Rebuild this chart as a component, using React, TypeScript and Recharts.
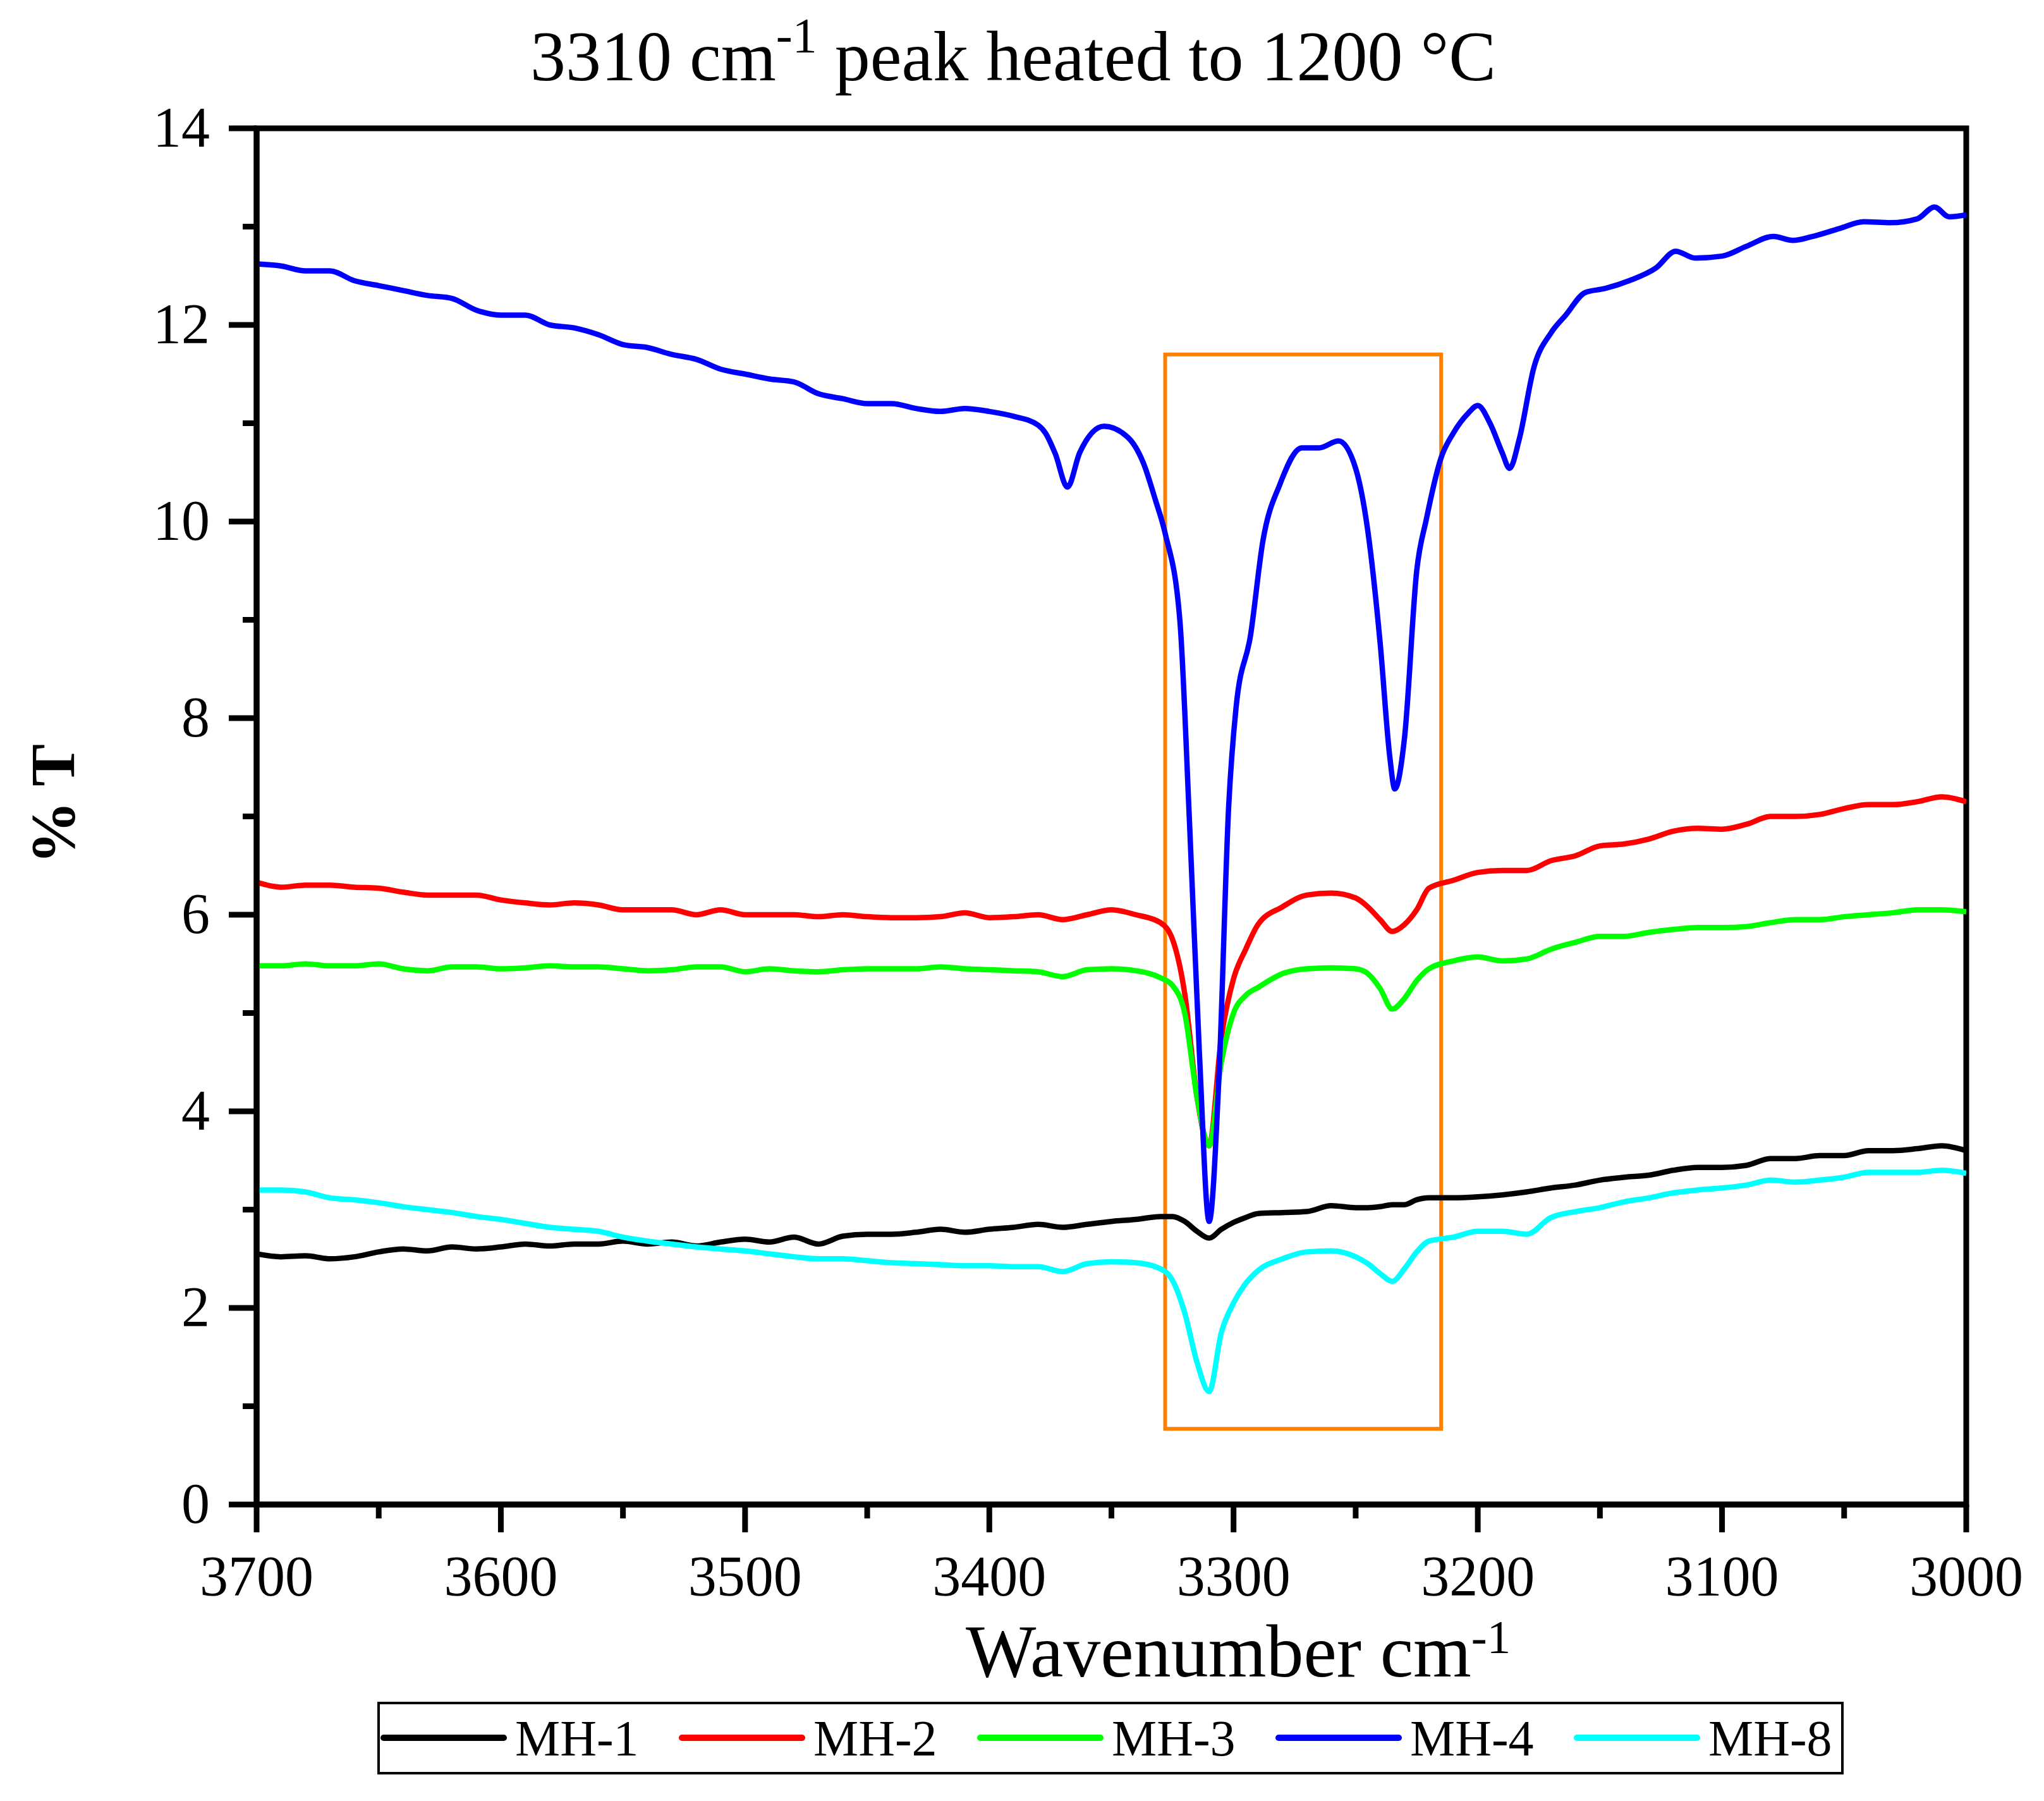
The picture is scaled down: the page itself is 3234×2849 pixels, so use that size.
import React from 'react';
import { LineChart, Line, XAxis, YAxis, ReferenceArea, Legend } from 'recharts';

const FONT = "'Liberation Serif', 'Times New Roman', Times, serif";

// Shared wavenumber grid for MH-1, MH-2, MH-3, MH-8
const wavenumbers = [
  3700, 3690, 3680, 3670, 3660, 3650, 3640, 3630, 3620, 3610, 3600, 3590, 3580, 3570, 3560, 3550, 3540, 3530, 3520,
  3510, 3500, 3490, 3480, 3470, 3460, 3450, 3440, 3430, 3420, 3410, 3400, 3390, 3380, 3370, 3360, 3350, 3340,
  3330, 3325, 3320, 3315, 3310, 3305, 3300, 3295, 3290, 3280, 3270, 3260, 3250, 3245, 3240, 3235, 3230, 3225, 3220,
  3210, 3200, 3190, 3180, 3170, 3160, 3150, 3140, 3130, 3120, 3110, 3100, 3090, 3080, 3070, 3060, 3050, 3040, 3030,
  3020, 3010, 3000,
];

const mh1 = [
  2.55, 2.52, 2.53, 2.5, 2.52, 2.57, 2.6, 2.58, 2.62, 2.6, 2.62, 2.65, 2.63, 2.65, 2.65, 2.68, 2.65, 2.67, 2.63,
  2.67, 2.7, 2.67, 2.72, 2.65, 2.73, 2.75, 2.75, 2.77, 2.8, 2.77, 2.8, 2.82, 2.85, 2.82, 2.85, 2.88, 2.9,
  2.93, 2.93, 2.88, 2.78, 2.71, 2.8, 2.87, 2.92, 2.96, 2.97, 2.98, 3.04, 3.02, 3.02, 3.03, 3.05, 3.05, 3.1, 3.12,
  3.12, 3.13, 3.15, 3.18, 3.22, 3.25, 3.3, 3.33, 3.35, 3.4, 3.43, 3.43, 3.45, 3.52, 3.52, 3.55, 3.55, 3.6, 3.6,
  3.62, 3.65, 3.6,
];

const mh2 = [
  6.33, 6.28, 6.3, 6.3, 6.28, 6.27, 6.23, 6.2, 6.2, 6.2, 6.15, 6.12, 6.1, 6.12, 6.1, 6.05, 6.05, 6.05, 6.0,
  6.05, 6.0, 6.0, 6.0, 5.98, 6.0, 5.98, 5.97, 5.97, 5.98, 6.02, 5.97, 5.98, 6.0, 5.95, 6.0, 6.05, 6.0,
  5.92, 5.75, 5.2, 4.15, 3.65, 4.75, 5.35, 5.65, 5.9, 6.08, 6.2, 6.22, 6.17, 6.08, 5.95, 5.83, 5.9, 6.05, 6.27,
  6.35, 6.43, 6.45, 6.45, 6.55, 6.6, 6.7, 6.72, 6.77, 6.85, 6.88, 6.87, 6.92, 7.0, 7.0, 7.02, 7.08, 7.12, 7.12,
  7.15, 7.2, 7.15,
];

const mh3 = [
  5.48, 5.48, 5.5, 5.48, 5.48, 5.5, 5.45, 5.43, 5.47, 5.47, 5.45, 5.46, 5.48, 5.47, 5.47, 5.45, 5.43, 5.44, 5.47,
  5.47, 5.42, 5.45, 5.43, 5.42, 5.44, 5.45, 5.45, 5.45, 5.47, 5.45, 5.44, 5.43, 5.42, 5.37, 5.44, 5.45, 5.43,
  5.36, 5.28, 5.0, 4.15, 3.65, 4.5, 5.0, 5.18, 5.26, 5.4, 5.45, 5.46, 5.45, 5.4, 5.25, 5.04, 5.15, 5.33, 5.45,
  5.53, 5.57, 5.53, 5.55, 5.65, 5.72, 5.78, 5.78, 5.82, 5.85, 5.87, 5.87, 5.88, 5.92, 5.95, 5.95, 5.98, 6.0, 6.02,
  6.05, 6.05, 6.03,
];

const mh8 = [
  3.2, 3.2, 3.18, 3.12, 3.1, 3.07, 3.03, 3.0, 2.97, 2.93, 2.9, 2.86, 2.82, 2.8, 2.78, 2.72, 2.68, 2.65, 2.62,
  2.6, 2.58, 2.55, 2.52, 2.5, 2.5, 2.48, 2.46, 2.45, 2.44, 2.43, 2.43, 2.42, 2.42, 2.37, 2.45, 2.47, 2.46,
  2.4, 2.28, 1.95, 1.45, 1.15, 1.75, 2.05, 2.25, 2.38, 2.5, 2.57, 2.58, 2.52, 2.45, 2.35, 2.27, 2.4, 2.57, 2.68,
  2.72, 2.78, 2.78, 2.75, 2.92, 2.98, 3.02, 3.08, 3.12, 3.17, 3.2, 3.22, 3.25, 3.3, 3.28, 3.3, 3.33, 3.38, 3.38,
  3.38, 3.4, 3.37,
];

// MH-4 has sharper features, so it has its own denser grid
const mh4Wavenumbers = [
  3700, 3690, 3680, 3670, 3660, 3650, 3640, 3630, 3620, 3610, 3600, 3590, 3580, 3570, 3560, 3550, 3540, 3530, 3520,
  3510, 3500, 3490, 3480, 3470, 3460, 3450, 3440, 3430, 3420, 3410, 3400, 3390,
  3380, 3377, 3373, 3368, 3363, 3353, 3343, 3337, 3332, 3328, 3322, 3318, 3314, 3310, 3306, 3302, 3299, 3293, 3288,
  3281, 3272, 3265, 3257, 3250, 3245, 3240, 3236, 3234, 3230, 3225, 3221, 3215, 3210, 3204, 3200, 3195, 3190, 3187,
  3183, 3177, 3170, 3164, 3156, 3148, 3138, 3127, 3119, 3111, 3100, 3090, 3079, 3071, 3063, 3052, 3042, 3031, 3020,
  3013, 3007, 3000,
];

const mh4 = [
  12.62, 12.6, 12.55, 12.55, 12.45, 12.4, 12.35, 12.3, 12.27, 12.15, 12.1, 12.1, 12.0, 11.97, 11.9, 11.8, 11.77,
  11.7, 11.65, 11.55, 11.5, 11.45, 11.42, 11.3, 11.25, 11.2, 11.2, 11.15, 11.12, 11.15, 11.12, 11.07,
  10.98, 10.9, 10.69, 10.35, 10.7, 10.97, 10.85, 10.6, 10.22, 9.88, 9.0, 6.92, 4.6, 2.88, 4.34, 7.1, 8.1, 8.85, 9.8,
  10.38, 10.75, 10.75, 10.82, 10.54, 9.9, 8.77, 7.6, 7.28, 7.8, 9.5, 10.03, 10.65, 10.9, 11.1, 11.18, 11.0, 10.7,
  10.54, 10.84, 11.57, 11.92, 12.1, 12.33, 12.37, 12.45, 12.58, 12.75, 12.68, 12.7, 12.8, 12.9, 12.86, 12.9, 12.98,
  13.05, 13.04, 13.08, 13.2, 13.1, 13.12,
];

const seriesNames = ['MH-1', 'MH-2', 'MH-3', 'MH-4', 'MH-8'];
const seriesColors = ['#000000', '#FF0000', '#00FF00', '#0000FF', '#00FFFF'];

const xTicks = [3700, 3650, 3600, 3550, 3500, 3450, 3400, 3350, 3300, 3250, 3200, 3150, 3100, 3050, 3000];
const yTicks = [0, 1, 2, 3, 4, 5, 6, 7, 8, 9, 10, 11, 12, 13, 14];
const xDomain = [3000, 3700];
const yDomain = [0, 14];

// highlighted region (data coordinates)
const boxFrom = 3328;
const boxTo = 3215;
const boxBottom = 0.77;
const boxTop = 11.7;

const titleMain = '3310 cm';
const titleSup = '-1';
const titleRest = ' peak heated to 1200 °C';
const xLabelMain = 'Wavenumber cm';
const xLabelSup = '-1';
const yLabel = '% T';

const toPoints = (xs: number[], ys: number[]) => xs.map((x, i) => ({ x, v: ys[i] }));

const seriesData = [
  toPoints(wavenumbers, mh1),
  toPoints(wavenumbers, mh2),
  toPoints(wavenumbers, mh3),
  toPoints(mh4Wavenumbers, mh4),
  toPoints(wavenumbers, mh8),
];

const XTick = (props: any) => {
  const { x, y, payload } = props;
  const v = payload.value;
  const major = v % 100 === 0;
  return (
    <g>
      <line x1={x} x2={x} y1={y} y2={y + (major ? 44 : 22)} stroke="#000" strokeWidth={9} />
      {major && (
        <text x={x} y={y + 144} textAnchor="middle" fontFamily={FONT} fontSize={90} fill="#000">
          {v}
        </text>
      )}
    </g>
  );
};

const YTick = (props: any) => {
  const { x, y, payload } = props;
  const v = payload.value;
  const major = v % 2 === 0;
  return (
    <g>
      <line x1={x} x2={x - (major ? 44 : 22)} y1={y} y2={y} stroke="#000" strokeWidth={9} />
      {major && (
        <text x={x - 74} y={y + 29} textAnchor="end" fontFamily={FONT} fontSize={90} fill="#000">
          {v}
        </text>
      )}
    </g>
  );
};

const renderLegend = (props: any) => {
  const payload = props.payload || [];
  return (
    <svg width={2320} height={115} style={{ display: 'block' }}>
      <rect x={2} y={2} width={2316} height={111} fill="#fff" stroke="#000" strokeWidth={4} />
      {payload.map((entry: any, i: number) => (
        <g key={entry.value}>
          <line
            x1={10 + i * 472}
            x2={200 + i * 472}
            y1={57}
            y2={57}
            stroke={entry.color}
            strokeWidth={10}
            strokeLinecap="round"
          />
          <text x={218 + i * 472} y={85} fontFamily={FONT} fontSize={80} fill="#000">
            {entry.value}
          </text>
        </g>
      ))}
    </svg>
  );
};

export default function App() {
  return (
    <div style={{ position: 'absolute', left: 0, top: 0, width: 3234, height: 2849, background: '#fff', fontFamily: FONT }}>
      <LineChart width={3234} height={2849} margin={{ top: 203, right: 123, bottom: 269, left: 206 }}>
        <XAxis
          dataKey="x"
          type="number"
          domain={xDomain}
          reversed
          ticks={xTicks}
          interval={0}
          tick={<XTick />}
          tickLine={false}
          tickSize={0}
          tickMargin={0}
          height={200}
          axisLine={{ stroke: '#000', strokeWidth: 9 }}
          allowDataOverflow
        />
        <YAxis
          type="number"
          domain={yDomain}
          ticks={yTicks}
          interval={0}
          tick={<YTick />}
          tickLine={false}
          tickSize={0}
          tickMargin={0}
          width={200}
          axisLine={{ stroke: '#000', strokeWidth: 9 }}
          allowDataOverflow
        />
        {seriesData.map((d, i) => (
          <Line
            key={seriesNames[i]}
            data={d}
            dataKey="v"
            name={seriesNames[i]}
            type="monotone"
            stroke={seriesColors[i]}
            strokeWidth={8.5}
            dot={false}
            activeDot={false}
            isAnimationActive={false}
          />
        ))}
        <ReferenceArea
          x1={boxFrom}
          x2={boxTo}
          y1={boxBottom}
          y2={boxTop}
          fill="none"
          fillOpacity={0}
          stroke="#FF8000"
          strokeWidth={6}
          ifOverflow="visible"
        />
        <ReferenceArea
          x1={xDomain[1]}
          x2={xDomain[0]}
          y1={yDomain[0]}
          y2={yDomain[1]}
          fill="none"
          fillOpacity={0}
          stroke="#000"
          strokeWidth={9}
          ifOverflow="visible"
        />
        <Legend
          layout="horizontal"
          verticalAlign="middle"
          align="center"
          content={renderLegend}
          wrapperStyle={{ position: 'absolute', left: 597, top: 2692, width: 2320, height: 115, margin: 0, padding: 0 }}
        />
      </LineChart>
      <svg width={3234} height={2849} style={{ position: 'absolute', left: 0, top: 0, pointerEvents: 'none' }}>
        <text x={1603} y={127} textAnchor="middle" fontFamily={FONT} fontSize={112} fill="#000">
          {titleMain}
          <tspan dy={-45} fontSize={78}>{titleSup}</tspan>
          <tspan dy={45}>{titleRest}</tspan>
        </text>
        <text x={1528} y={2652} fontFamily={FONT} fontSize={118} fill="#000">
          {xLabelMain}
          <tspan dy={-37} fontSize={75}>{xLabelSup}</tspan>
        </text>
        <text
          x={117}
          y={1272}
          transform="rotate(-90 117 1272)"
          textAnchor="middle"
          fontFamily={FONT}
          fontSize={100}
          fontWeight="bold"
          fill="#000"
        >
          {yLabel}
        </text>
      </svg>
    </div>
  );
}
